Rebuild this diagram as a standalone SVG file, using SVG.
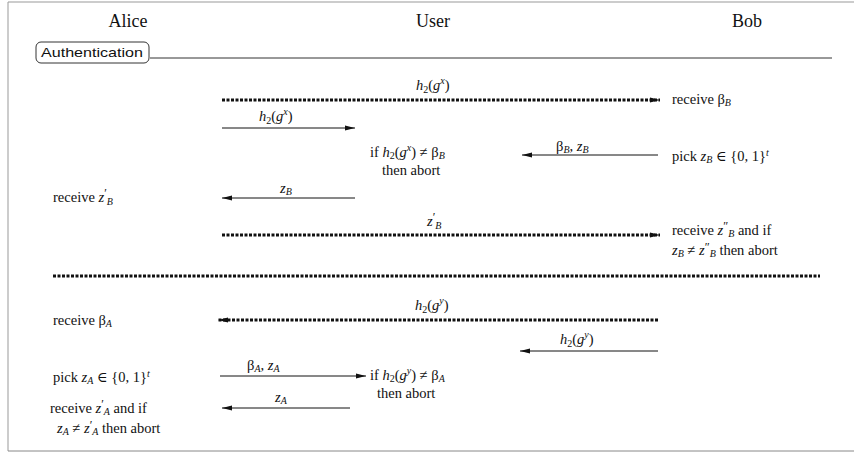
<svg xmlns="http://www.w3.org/2000/svg" width="854" height="452" viewBox="0 0 854 452">
<defs>
<style>
.t{font-family:"Liberation Serif","DejaVu Serif",serif;font-size:14.5px;fill:#111}
.h{font-family:"Liberation Serif","DejaVu Serif",serif;font-size:18px;fill:#111}
.i{font-style:italic}
.s{font-size:10px}
.p{font-size:12px;font-style:normal}
.sol{stroke:#111;stroke-width:1;fill:none}
.dot{stroke:#111;stroke-width:3;stroke-dasharray:3 1.5;fill:none}
</style>
<marker id="ar" markerUnits="userSpaceOnUse" markerWidth="10" markerHeight="6" refX="10" refY="3" orient="auto">
<path d="M0,0.5 L10,3 L0,5.5 Z" fill="#111"/>
</marker>
</defs>
<rect x="0" y="0" width="854" height="452" fill="#fff"/>
<path d="M8,451 L8,2 L854,2" fill="none" stroke="#999" stroke-width="1"/>
<path d="M8,451 L854,451" fill="none" stroke="#888" stroke-width="1"/>

<g id="headers">
<text class="h" x="128" y="27" text-anchor="middle">Alice</text>
<text class="h" x="433" y="27" text-anchor="middle">User</text>
<text class="h" x="747" y="27" text-anchor="middle">Bob</text>
</g>

<g id="auth">
<rect x="36" y="42" width="113" height="21" rx="5" fill="none" stroke="#333" stroke-width="1"/>
<text x="41" y="57" font-family="'Liberation Sans',sans-serif" font-size="13" fill="#111" textLength="102" lengthAdjust="spacingAndGlyphs">Authentication</text>
<line x1="150" y1="58" x2="832" y2="58" stroke="#333" stroke-width="1"/>
</g>

<g id="connectors">
<line class="dot" x1="222" y1="100" x2="660" y2="100" marker-end="url(#ar)"/>
<line class="sol" x1="222" y1="128" x2="355" y2="128" marker-end="url(#ar)"/>
<line class="sol" x1="658" y1="155" x2="522" y2="155" marker-end="url(#ar)"/>
<line class="sol" x1="355" y1="198" x2="222" y2="198" marker-end="url(#ar)"/>
<line class="dot" x1="222" y1="235" x2="660" y2="235" marker-end="url(#ar)"/>
<line class="dot" x1="53" y1="276" x2="820" y2="276"/>
<line class="dot" x1="658" y1="320" x2="218" y2="320" marker-end="url(#ar)"/>
<line class="sol" x1="658" y1="351" x2="520" y2="351" marker-end="url(#ar)"/>
<line class="sol" x1="220" y1="376" x2="366" y2="376" marker-end="url(#ar)"/>
<line class="sol" x1="350" y1="408" x2="222" y2="408" marker-end="url(#ar)"/>
</g>

<g id="labels">
<text class="t" x="416" y="90"><tspan class="i">h</tspan><tspan class="s" dy="3">2</tspan><tspan dy="-3">(</tspan><tspan class="i">g</tspan><tspan class="s i" dy="-6">x</tspan><tspan dy="6">)</tspan></text>
<text class="t" x="259" y="121"><tspan class="i">h</tspan><tspan class="s" dy="3">2</tspan><tspan dy="-3">(</tspan><tspan class="i">g</tspan><tspan class="s i" dy="-6">x</tspan><tspan dy="6">)</tspan></text>
<text class="t" x="556" y="151">β<tspan class="s i" dy="2">B</tspan><tspan dy="-2">, </tspan><tspan class="i">z</tspan><tspan class="s i" dy="2">B</tspan></text>
<text class="t" x="280" y="193"><tspan class="i">z</tspan><tspan class="s i" dy="2">B</tspan></text>
<text class="t" x="427" y="226"><tspan class="i">z</tspan><tspan class="p" dy="-5">′</tspan><tspan class="s i" dy="8">B</tspan></text>
<text class="t" x="415" y="310"><tspan class="i">h</tspan><tspan class="s" dy="3">2</tspan><tspan dy="-3">(</tspan><tspan class="i">g</tspan><tspan class="s i" dy="-6">y</tspan><tspan dy="6">)</tspan></text>
<text class="t" x="560" y="344"><tspan class="i">h</tspan><tspan class="s" dy="3">2</tspan><tspan dy="-3">(</tspan><tspan class="i">g</tspan><tspan class="s i" dy="-6">y</tspan><tspan dy="6">)</tspan></text>
<text class="t" x="247" y="370">β<tspan class="s i" dy="2">A</tspan><tspan dy="-2">, </tspan><tspan class="i">z</tspan><tspan class="s i" dy="2">A</tspan></text>
<text class="t" x="275" y="402"><tspan class="i">z</tspan><tspan class="s i" dy="2">A</tspan></text>
</g>

<g id="bob">
<text class="t" x="672" y="104">receive β<tspan class="s i" dy="2">B</tspan></text>
<text class="t" x="672" y="161">pick <tspan class="i">z</tspan><tspan class="s i" dy="2">B</tspan><tspan dy="-2"> ∈ {0, 1}</tspan><tspan class="s i" dy="-5">t</tspan></text>
<text class="t" x="672" y="235">receive <tspan class="i">z</tspan><tspan class="p" dy="-5">″</tspan><tspan class="s i" dy="7">B</tspan><tspan dy="-2"> and if</tspan></text>
<text class="t" x="672" y="255"><tspan class="i">z</tspan><tspan class="s i" dy="2">B</tspan><tspan dy="-2"> ≠ </tspan><tspan class="i">z</tspan><tspan class="p" dy="-4">″</tspan><tspan class="s i" dy="6">B</tspan><tspan dy="-2"> then abort</tspan></text>
</g>

<g id="user">
<text class="t" x="370" y="157">if <tspan class="i">h</tspan><tspan class="s" dy="2">2</tspan><tspan dy="-2">(</tspan><tspan class="i">g</tspan><tspan class="s i" dy="-6">x</tspan><tspan dy="6">) ≠ β</tspan><tspan class="s i" dy="2">B</tspan></text>
<text class="t" x="382" y="175">then abort</text>
<text class="t" x="370" y="380">if <tspan class="i">h</tspan><tspan class="s" dy="2">2</tspan><tspan dy="-2">(</tspan><tspan class="i">g</tspan><tspan class="s i" dy="-6">y</tspan><tspan dy="6">) ≠ β</tspan><tspan class="s i" dy="2">A</tspan></text>
<text class="t" x="377" y="398">then abort</text>
</g>

<g id="alice">
<text class="t" x="53" y="202">receive <tspan class="i">z</tspan><tspan class="p" dy="-5">′</tspan><tspan class="s i" dy="8">B</tspan></text>
<text class="t" x="53" y="325">receive β<tspan class="s i" dy="2">A</tspan></text>
<text class="t" x="53" y="382">pick <tspan class="i">z</tspan><tspan class="s i" dy="2">A</tspan><tspan dy="-2"> ∈ {0, 1}</tspan><tspan class="s i" dy="-5">t</tspan></text>
<text class="t" x="50" y="413">receive <tspan class="i">z</tspan><tspan class="p" dy="-5">′</tspan><tspan class="s i" dy="7">A</tspan><tspan dy="-2"> and if</tspan></text>
<text class="t" x="57" y="433"><tspan class="i">z</tspan><tspan class="s i" dy="2">A</tspan><tspan dy="-2"> ≠ </tspan><tspan class="i">z</tspan><tspan class="p" dy="-4">′</tspan><tspan class="s i" dy="6">A</tspan><tspan dy="-2"> then abort</tspan></text>
</g>
</svg>
